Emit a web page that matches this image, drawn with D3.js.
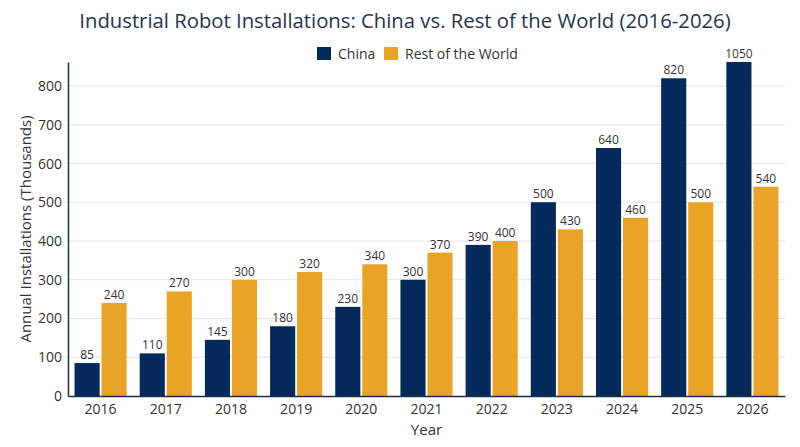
<!DOCTYPE html>
<html>
<head>
<meta charset="utf-8">
<script src="https://cdn.jsdelivr.net/npm/d3@7"></script>
<style>
  body { margin: 0; background: #fff; }
  svg { font-family: "Open Sans", sans-serif; }
</style>
</head>
<body>
<script>
"use strict";

const years = ["2016", "2017", "2018", "2019", "2020", "2021", "2022", "2023", "2024", "2025", "2026"];
const china = [85, 110, 145, 180, 230, 300, 390, 500, 640, 820, 1050];
const restOfWorld = [240, 270, 300, 320, 340, 370, 400, 430, 460, 500, 540];
const seriesNames = ["China", "Rest of the World"];
const yTicks = [0, 100, 200, 300, 400, 500, 600, 700, 800];

const colors = { "China": "#032a5a", "Rest of the World": "#e9a427" };

const width = 800, height = 447;
const margin = { top: 62, right: 15, bottom: 51, left: 68 };
const innerW = width - margin.left - margin.right;
const innerH = height - margin.top - margin.bottom;
const yMax = 862;

const svg = d3.select("body").append("svg")
    .attr("width", width)
    .attr("height", height);

const x = d3.scaleBand().domain(years).range([0, innerW]).paddingInner(0.2).paddingOuter(0.1);
const xSub = d3.scaleBand().domain(seriesNames).range([0, x.bandwidth()]).paddingInner(0.07);
const y = d3.scaleLinear().domain([0, yMax]).range([innerH, 0]);

const g = svg.append("g").attr("transform", `translate(${margin.left},${margin.top})`);

// gridlines
g.append("g")
    .selectAll("line")
    .data(yTicks.filter(d => d > 0))
    .join("line")
    .attr("x1", 0).attr("x2", innerW)
    .attr("y1", d => y(d)).attr("y2", d => y(d))
    .attr("stroke", "#e3e3e3")
    .attr("stroke-width", 1);

const rows = years.map((yr, i) => ({ year: yr, values: [
    { name: "China", value: china[i] },
    { name: "Rest of the World", value: restOfWorld[i] }
] }));

const groups = g.append("g")
    .selectAll("g")
    .data(rows)
    .join("g")
    .attr("transform", d => `translate(${x(d.year)},0)`);

groups.selectAll("rect")
    .data(d => d.values)
    .join("rect")
    .attr("x", d => xSub(d.name))
    .attr("width", xSub.bandwidth())
    .attr("y", d => y(Math.min(d.value, yMax)))
    .attr("height", d => innerH - y(Math.min(d.value, yMax)))
    .attr("fill", d => colors[d.name]);

groups.selectAll("text")
    .data(d => d.values)
    .join("text")
    .attr("x", d => xSub(d.name) + xSub.bandwidth() / 2)
    .attr("y", d => y(Math.min(d.value, yMax)) - 4)
    .attr("text-anchor", "middle")
    .attr("font-size", 12)
    .attr("fill", "#333")
    .text(d => d.value);

// axes
const yAxis = g.append("g")
    .call(d3.axisLeft(y).tickValues(yTicks).tickSize(0).tickPadding(6));
yAxis.select(".domain").attr("stroke", "#1e2c48").attr("stroke-width", 1.5);
yAxis.selectAll("text").attr("font-size", 14).attr("fill", "#333").attr("font-family", "Open Sans");

const xAxis = g.append("g")
    .attr("transform", `translate(0,${innerH})`)
    .call(d3.axisBottom(x).tickSize(0).tickPadding(8));
xAxis.select(".domain").attr("stroke", "#1e2c48").attr("stroke-width", 1.5);
xAxis.selectAll("text").attr("font-size", 14).attr("fill", "#333").attr("font-family", "Open Sans");

// axis titles
svg.append("text")
    .attr("x", margin.left + innerW / 2)
    .attr("y", 435)
    .attr("text-anchor", "middle")
    .attr("font-size", 15)
    .attr("fill", "#333")
    .text("Year");

svg.append("text")
    .attr("transform", `translate(31,${margin.top + innerH / 2}) rotate(-90)`)
    .attr("text-anchor", "middle")
    .attr("font-size", 15)
    .attr("fill", "#333")
    .text("Annual Installations (Thousands)");

// title
svg.append("text")
    .attr("x", 405)
    .attr("y", 28)
    .attr("text-anchor", "middle")
    .attr("font-size", 20.3)
    .attr("fill", "#26344f")
    .text("Industrial Robot Installations: China vs. Rest of the World (2016-2026)");

// legend
const legend = svg.append("g").attr("transform", "translate(317,47)");
const legendX = [0, 67];
seriesNames.forEach((name, i) => {
    const item = legend.append("g").attr("transform", `translate(${legendX[i]},0)`);
    item.append("rect").attr("width", 14).attr("height", 13).attr("fill", colors[name]);
    item.append("text")
        .attr("x", 21).attr("y", 11.5)
        .attr("font-size", 14)
        .attr("fill", "#333")
        .text(name);
});
</script>
</body>
</html>
